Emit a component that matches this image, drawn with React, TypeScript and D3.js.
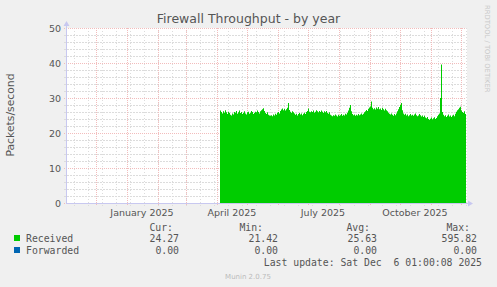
import React from "react";
import * as d3 from "d3";

// ---- data ----
const title = "Firewall Throughput - by year";
const yLabel = "Packets/second";
const yTicks = [0, 10, 20, 30, 40, 50];
const yMinorTicks = [2, 4, 6, 8, 12, 14, 16, 18, 22, 24, 26, 28, 32, 34, 36, 38, 42, 44, 46, 48];
const xLabels = ["January 2025", "April 2025", "July 2025", "October 2025"];
const xLabelMonths = [new Date(2025, 0, 1), new Date(2025, 3, 1), new Date(2025, 6, 1), new Date(2025, 9, 1)];
const rangeStart = new Date(2024, 10, 1, 1, 0, 8);
const rangeEnd = new Date(2025, 11, 6, 1, 0, 8);
const minorGridStart = new Date(2024, 10, 9);
const dataStart = new Date(2025, 3, 4, 1, 0, 8);
// daily averages of "Received" (packets/second)
const received = [
  26.4, 26.0, 25.6, 26.2, 25.8, 26.5, 25.9, 25.4, 26.1, 25.7,
  25.2, 25.0, 25.6, 25.3, 26.0, 25.8, 26.3, 25.5, 25.9, 26.4,
  25.7, 26.0, 25.4, 25.8, 26.2, 25.6, 25.3, 25.9, 26.1, 25.5,
  25.8, 26.3, 26.0, 25.4, 25.7, 26.1, 25.9, 26.4, 26.0, 25.6,
  26.2, 26.5, 26.8, 27.1, 26.3, 25.7, 25.4, 25.9, 25.2, 25.0,
  24.9, 25.1, 24.8, 25.3, 25.0, 25.5, 25.2, 25.8, 26.0, 25.6,
  26.3, 26.7, 27.0, 26.5, 26.9, 26.4, 26.8, 27.2, 28.6, 26.6,
  26.1, 25.8, 26.2, 25.9, 25.6, 25.2, 25.5, 25.0, 25.4, 25.7,
  25.3, 25.6, 25.1, 25.5, 25.8, 25.4, 26.0, 26.3, 27.0, 26.1,
  25.9, 26.2, 26.0, 26.4, 25.8, 26.1, 26.5, 26.2, 25.9, 26.3,
  26.0, 26.4, 26.1, 25.7, 26.2, 25.9, 26.3, 25.8, 25.5, 25.9,
  25.2, 25.0, 24.8, 25.1, 24.9, 25.3, 25.0, 24.7, 25.2, 24.9,
  25.1, 25.4, 24.9, 25.2, 25.0, 25.5, 25.3, 25.8, 26.4, 27.2,
  28.0, 26.2, 25.4, 25.1, 25.3, 24.9, 25.2, 25.0, 25.4, 25.1,
  25.3, 25.6, 25.2, 25.5, 25.9, 26.2, 26.6, 26.3, 26.9, 27.3,
  27.6, 29.0, 27.2, 26.8, 27.1, 26.7, 27.3, 26.9, 27.4, 26.8,
  27.0, 26.6, 27.2, 26.8, 26.4, 26.9, 26.5, 26.2, 25.8, 25.5,
  25.3, 25.6, 25.2, 24.9, 25.4, 25.1, 25.6, 26.2, 26.8, 27.4,
  28.0, 28.6, 26.5, 25.6, 25.2, 25.5, 25.0, 25.3, 24.8, 25.1,
  25.4, 25.0, 25.2, 24.9, 25.3, 25.6, 25.1, 24.8, 25.0, 25.4,
  25.1, 24.7, 25.0, 24.6, 24.9, 24.4, 24.2, 24.6, 24.0, 23.8,
  24.1, 24.4, 23.9, 24.2, 24.5, 24.0, 24.3, 24.8, 25.2, 25.6,
  30.0, 39.6, 26.0, 25.2, 24.8, 25.1, 24.6, 24.9, 25.3, 24.7,
  25.0, 24.6, 24.9, 25.2, 24.8, 25.5, 26.1, 26.5, 26.8, 27.2,
  27.5, 26.4, 26.0, 25.7, 26.2, 25.4, 24.3,
];
const legendNames = ["Received", "Forwarded"];
const legendColors = ["#00CC00", "#0066B3"];
const legendCur = ["24.27", "0.00"];
const legendMin = ["21.42", "0.00"];
const legendAvg = ["25.63", "0.00"];
const legendMax = ["595.82", "0.00"];
const lastUpdate = "Last update: Sat Dec  6 01:00:08 2025";
const footer = "Munin 2.0.75";
const watermark = "RRDTOOL / TOBI OETIKER";

export default function App() {
  const W = 497, H = 287;
  const x0 = 66, x1 = 466, yTop = 28, yBot = 203;
  const x = d3.scaleTime().domain([rangeStart, rangeEnd]).range([x0, x1]);
  const y = d3.scaleLinear().domain([0, 50]).range([yBot, yTop]);

  const pts = received.map((v, i) => ({ d: d3.timeDay.offset(dataStart, i), v }));
  const area = d3
    .area<{ d: Date; v: number }>()
    .x((p) => x(p.d))
    .y0(y(0))
    .y1((p) => y(Math.min(p.v, 50)))
    .curve(d3.curveStepAfter);

  const majorX = d3.timeMonth.range(d3.timeMonth.ceil(rangeStart), rangeEnd);
  const minorX: Date[] = [];
  for (let d = minorGridStart; d < rangeEnd; d = d3.timeDay.offset(d, 14)) minorX.push(d);

  const grey = "#555555";
  const axisCol = "#C8C8F0";
  const mono = "'DejaVu Sans Mono', monospace";
  const sans = "'DejaVu Sans', sans-serif";
  const majorCol = "#F2BCBC";
  const minorCol = "#DCDCDC";

  return (
    <svg
      width={W}
      height={H}
      style={{ position: "fixed", left: 0, top: 0, display: "block" }}
      shapeRendering="crispEdges"
    >
      <rect x={0} y={0} width={W} height={H} fill="#F0F0F0" />
      <rect x={x0} y={yTop} width={x1 - x0 + 1} height={yBot - yTop} fill="#FFFFFF" />

      {/* minor grid */}
      {minorX.map((d, i) => (
        <line key={"mx" + i} x1={Math.round(x(d)) + 0.5} x2={Math.round(x(d)) + 0.5} y1={yTop} y2={yBot + 3}
          stroke={minorCol} strokeDasharray="1,2" />
      ))}
      {yMinorTicks.map((t) => (
        <line key={"my" + t} x1={x0 - 2} x2={x1} y1={Math.round(y(t)) + 0.5} y2={Math.round(y(t)) + 0.5}
          stroke={minorCol} strokeDasharray="2,1" />
      ))}
      {/* major grid */}
      {majorX.map((d, i) => (
        <line key={"Mx" + i} x1={Math.round(x(d)) + 0.5} x2={Math.round(x(d)) + 0.5} y1={yTop} y2={yBot + 3}
          stroke={majorCol} strokeDasharray="1,1" />
      ))}
      {yTicks.map((t) => (
        <line key={"My" + t} x1={x0 - 2} x2={x1} y1={Math.round(y(t)) + 0.5} y2={Math.round(y(t)) + 0.5}
          stroke={majorCol} strokeDasharray="1,1" />
      ))}

      {/* data */}
      <path d={area(pts) || ""} fill="#00CC00" shapeRendering="auto" />

      {/* axes */}
      <line x1={x0 + 0.5} x2={x0 + 0.5} y1={yTop - 4} y2={yBot} stroke={axisCol} />
      <line x1={x0} x2={x1 + 3} y1={yBot + 0.5} y2={yBot + 0.5} stroke={axisCol} />
      <path d={`M${x0 - 2.5},${yTop - 2} L${x0 + 3.5},${yTop - 2} L${x0 + 0.5},${yTop - 7} Z`} fill={axisCol} shapeRendering="auto" />
      <path d={`M${x1 + 2},${yBot - 2.5} L${x1 + 2},${yBot + 3.5} L${x1 + 7},${yBot + 0.5} Z`} fill={axisCol} shapeRendering="auto" />

      {/* y tick labels */}
      {yTicks.map((t) => (
        <text key={"yl" + t} x={61} y={y(t) + 3.5} textAnchor="end" fontFamily={sans} fontSize={9.5} fill={grey}>
          {t}
        </text>
      ))}
      {/* x labels centred mid-month */}
      {xLabelMonths.map((d, i) => (
        <text key={"xl" + i} x={x(d3.timeDay.offset(d, 15))} y={216} textAnchor="middle" fontFamily={sans} fontSize={9.5} fill={grey}>
          {xLabels[i]}
        </text>
      ))}

      {/* title + labels */}
      <text x={248.5} y={23} textAnchor="middle" fontFamily={sans} fontSize={12.5} fill={grey}>{title}</text>
      <text transform="translate(14,115) rotate(-90)" textAnchor="middle" fontFamily={sans} fontSize={10.8} fill={grey}>{yLabel}</text>
      <text transform="translate(485,5) rotate(90)" textAnchor="start" fontFamily={sans} fontSize={6.8} fill="#C8C8C8">{watermark}</text>

      {/* legend */}
      <text x={173} y={231} textAnchor="end" fontFamily={mono} fontSize={9.8} fill={grey}>Cur:</text>
      <text x={263} y={231} textAnchor="end" fontFamily={mono} fontSize={9.8} fill={grey}>Min:</text>
      <text x={370} y={231} textAnchor="end" fontFamily={mono} fontSize={9.8} fill={grey}>Avg:</text>
      <text x={470} y={231} textAnchor="end" fontFamily={mono} fontSize={9.8} fill={grey}>Max:</text>
      {legendNames.map((n, i) => {
        const yy = 242 + i * 12;
        return (
          <g key={n}>
            <rect x={14} y={yy - 7} width={6} height={6} fill={legendColors[i]} />
            <text x={26} y={yy} fontFamily={mono} fontSize={9.8} fill={grey}>{n}</text>
            <text x={179} y={yy} textAnchor="end" fontFamily={mono} fontSize={9.8} fill={grey}>{legendCur[i]}</text>
            <text x={278} y={yy} textAnchor="end" fontFamily={mono} fontSize={9.8} fill={grey}>{legendMin[i]}</text>
            <text x={377} y={yy} textAnchor="end" fontFamily={mono} fontSize={9.8} fill={grey}>{legendAvg[i]}</text>
            <text x={477} y={yy} textAnchor="end" fontFamily={mono} fontSize={9.8} fill={grey}>{legendMax[i]}</text>
          </g>
        );
      })}
      <text x={482} y={266} textAnchor="end" fontFamily={mono} fontSize={9.8} fill={grey} style={{ whiteSpace: "pre" }}>{lastUpdate}</text>
      <text x={248} y={279} textAnchor="middle" fontFamily={sans} fontSize={7} fill="#BBBBBB">{footer}</text>
    </svg>
  );
}
